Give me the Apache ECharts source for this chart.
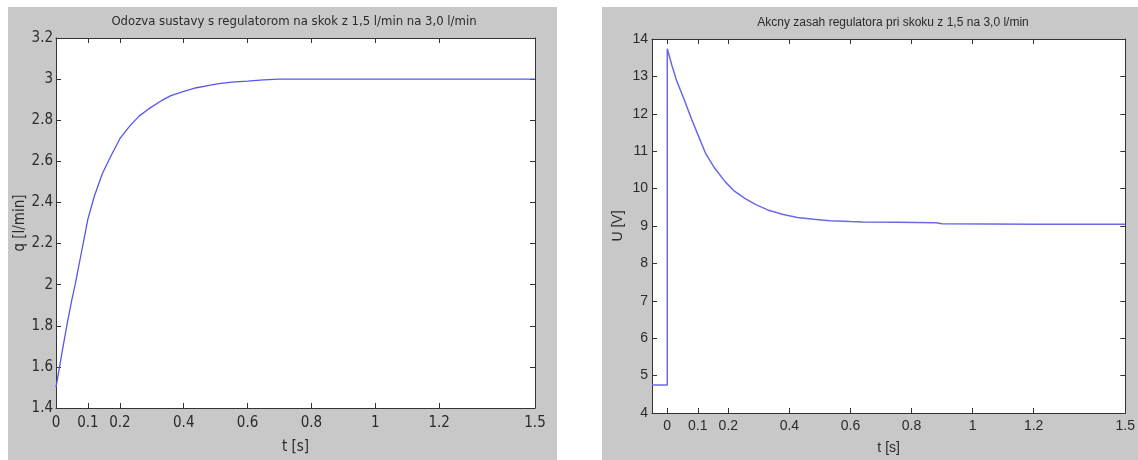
<!DOCTYPE html>
<html>
<head>
<meta charset="utf-8">
<script src="https://cdn.jsdelivr.net/npm/echarts@6/dist/echarts.min.js"></script>
<style>
html,body{margin:0;padding:0;background:#fff;}
#chart{width:1138px;height:460px;}
</style>
</head>
<body>
<div id="chart"></div>
<script>
// ---- Data ----
var leftTitle = 'Odozva sustavy s regulatorom na skok z 1,5 l/min na 3,0 l/min';
var rightTitle = 'Akcny zasah regulatora pri skoku z 1,5 na 3,0 l/min';
var xTickValues = [0, 0.1, 0.2, 0.4, 0.6, 0.8, 1, 1.2, 1.5];

var qTime = [0, 0.01, 0.02, 0.035, 0.05, 0.06, 0.075, 0.09, 0.1, 0.12, 0.145, 0.17, 0.2, 0.23, 0.26, 0.29, 0.33, 0.36, 0.4, 0.44, 0.48, 0.51, 0.55, 0.6, 0.65, 0.7, 0.8, 1.0, 1.2, 1.5];
var qValues = [1.5, 1.59, 1.68, 1.81, 1.93, 2.0, 2.12, 2.24, 2.32, 2.43, 2.54, 2.62, 2.71, 2.77, 2.82, 2.855, 2.895, 2.92, 2.94, 2.958, 2.97, 2.978, 2.985, 2.99, 2.996, 3.0, 3.0, 3.0, 3.0, 3.0];

var uTime = [-0.05, 0, 0, 0.015, 0.03, 0.055, 0.08, 0.1, 0.125, 0.155, 0.19, 0.22, 0.254, 0.29, 0.329, 0.38, 0.426, 0.48, 0.532, 0.6, 0.641, 0.75, 0.88, 0.9, 1.2, 1.5];
var uValues = [4.75, 4.75, 13.74, 13.3, 12.9, 12.39, 11.85, 11.45, 10.95, 10.55, 10.18, 9.93, 9.74, 9.57, 9.43, 9.31, 9.23, 9.18, 9.14, 9.12, 9.11, 9.10, 9.085, 9.06, 9.05, 9.05];

function pairs(xs, ys) { return xs.map(function (x, i) { return [x, ys[i]]; }); }

var NARROW = "'Liberation Sans Narrow', 'DejaVu Sans Condensed', 'Liberation Sans', sans-serif";
var NORMAL = "'Liberation Sans', Arial, sans-serif";
var TXT = '#2b2b2b';
var BOX = '#333333';

function xAxes(gridIndex, min, font, size, margin, nameGap) {
  return [{
    type: 'value', gridIndex: gridIndex, position: 'bottom', min: min, max: 1.5,
    name: 't [s]', nameLocation: 'middle', nameGap: nameGap,
    nameTextStyle: { fontFamily: font, fontSize: size, color: TXT },
    axisLine: { show: true, onZero: false, lineStyle: { color: BOX, width: 1 } },
    axisTick: { show: true, inside: true, length: 5, customValues: xTickValues, lineStyle: { color: BOX } },
    axisLabel: { show: true, customValues: xTickValues, margin: margin, fontFamily: font, fontSize: size, color: TXT,
      formatter: function (v) { return String(v); } },
    splitLine: { show: false }
  }, {
    type: 'value', gridIndex: gridIndex, position: 'top', min: min, max: 1.5,
    axisLine: { show: true, onZero: false, lineStyle: { color: BOX, width: 1 } },
    axisTick: { show: true, inside: true, length: 5, customValues: xTickValues, lineStyle: { color: BOX } },
    axisLabel: { show: false },
    splitLine: { show: false }
  }];
}

function yAxes(gridIndex, min, max, interval, name, font, size, margin, nameGap, fmt) {
  return [{
    type: 'value', gridIndex: gridIndex, position: 'left', min: min, max: max, interval: interval,
    name: name, nameLocation: 'middle', nameGap: nameGap,
    nameTextStyle: { fontFamily: font, fontSize: size, color: TXT },
    axisLine: { show: true, onZero: false, lineStyle: { color: BOX, width: 1 } },
    axisTick: { show: true, inside: true, length: 5, lineStyle: { color: BOX } },
    axisLabel: { show: true, margin: margin, fontFamily: font, fontSize: size, color: TXT, formatter: fmt },
    splitLine: { show: false }
  }, {
    type: 'value', gridIndex: gridIndex, position: 'right', min: min, max: max, interval: interval,
    axisLine: { show: true, onZero: false, lineStyle: { color: BOX, width: 1 } },
    axisTick: { show: true, inside: true, length: 5, lineStyle: { color: BOX } },
    axisLabel: { show: false },
    splitLine: { show: false }
  }];
}

var chart = echarts.init(document.getElementById('chart'), null, { renderer: 'canvas' });

var option = {
  animation: false,
  backgroundColor: '#ffffff',
  graphic: [
    { type: 'rect', z: -100, silent: true, shape: { x: 8, y: 7, width: 549, height: 453 }, style: { fill: '#c8c8c8' } },
    { type: 'rect', z: -100, silent: true, shape: { x: 602, y: 7, width: 536, height: 453 }, style: { fill: '#c8c8c8' } },
    { type: 'text', z: 10, silent: true, x: 294, y: 22,
      style: { text: leftTitle, fontFamily: NARROW, fontSize: 13, fill: TXT, align: 'center', verticalAlign: 'middle' } },
    { type: 'text', z: 10, silent: true, x: 893, y: 23,
      style: { text: rightTitle, fontFamily: NORMAL, fontSize: 12, fill: TXT, align: 'center', verticalAlign: 'middle' } }
  ],
  grid: [
    { left: 56, top: 38, width: 479, height: 375, show: true, backgroundColor: '#ffffff', borderWidth: 0 },
    { left: 652, top: 39, width: 481, height: 378, show: true, backgroundColor: '#ffffff', borderWidth: 0 }
  ],
  xAxis: xAxes(0, 0, NARROW, 15, 8, 32).concat(xAxes(1, -0.05, NORMAL, 14, 6, 28)),
  yAxis: yAxes(0, 1.4, 3.2, 0.2, 'q [l/min]', NARROW, 15, 3, 18, function (v) { return String(+v.toFixed(1)); })
    .concat(yAxes(1, 4, 14, 1, 'U [V]', NORMAL, 14, 4, 27, function (v) { return String(v); })),
  series: [
    { type: 'line', xAxisIndex: 0, yAxisIndex: 0, data: pairs(qTime, qValues), showSymbol: false, smooth: false,
      lineStyle: { color: '#5656ec', width: 1.3 }, itemStyle: { color: '#5656ec' } },
    { type: 'line', xAxisIndex: 2, yAxisIndex: 2, data: pairs(uTime, uValues), showSymbol: false, smooth: false,
      lineStyle: { color: '#6a6ae8', width: 1.5 }, itemStyle: { color: '#6a6ae8' } }
  ]
};
chart.setOption(option);
</script>
</body>
</html>
